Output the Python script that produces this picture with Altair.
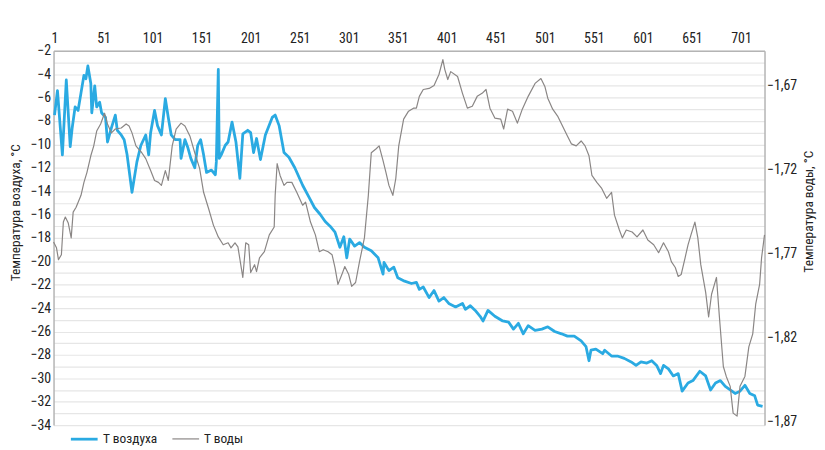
import altair as alt
import pandas as pd

# ---- data ----
air_idx = [1,4,9,13,17,19,22,25,28,31,33,35,38,39,42,44,47,49,53,55,
           59,63,65,69,72,75,80,85,89,94,97,99,103,106,110,114,117,120,124,129,
           130,134,137,140,144,147,150,153,156,161,165,166,168,169,171,175,178,182,186,190,
           193,198,201,204,207,211,216,223,226,230,235,240,246,254,261,266,272,277,282,287,
           292,296,299,302,307,312,317,324,331,336,337,342,347,351,358,365,370,373,377,383,
           388,393,398,403,410,417,420,425,430,435,438,443,450,458,464,469,474,479,484,491,
           498,504,511,518,524,531,538,543,546,548,553,560,562,569,575,582,589,594,599,605,
           610,615,619,622,627,632,637,641,647,652,659,665,670,675,680,685,690,695,700,705,
           710,715,718,723]
air_temp = [-7.5,-5.4,-10.9,-4.5,-10.2,-8.6,-6.8,-7.1,-5.6,-4.1,
            -4.4,-3.3,-4.8,-7.3,-5.0,-6.8,-6.4,-7.3,-7.7,-9.8,
            -8.6,-7.5,-8.8,-9.2,-9.6,-10.9,-14.1,-11.5,-10.1,-9.2,
            -10.9,-9.0,-7.1,-8.4,-9.2,-6.1,-7.7,-9.2,-9.6,-9.6,
            -11.2,-9.6,-10.3,-11.2,-12.0,-10.1,-9.6,-10.9,-12.4,-12.2,
            -12.6,-11.5,-3.6,-11.2,-10.9,-10.1,-9.8,-8.1,-9.8,-12.9,
            -9.1,-8.8,-9.0,-10.7,-9.5,-11.3,-9.2,-7.7,-7.5,-8.4,
            -10.7,-11.1,-12.0,-13.5,-14.6,-15.4,-16.0,-16.6,-17.0,-17.5,
            -18.8,-17.9,-19.7,-18.1,-18.7,-18.4,-18.8,-19.1,-19.7,-21.1,
            -20.1,-20.8,-20.5,-21.4,-21.7,-21.9,-21.8,-22.4,-22.2,-23.1,
            -22.5,-23.4,-23.1,-23.6,-23.9,-23.6,-24.1,-23.8,-24.2,-24.7,
            -25.1,-24.2,-24.7,-25.1,-25.2,-25.8,-25.3,-26.2,-25.5,-25.9,
            -25.8,-25.6,-26.0,-26.2,-26.4,-26.4,-26.8,-27.3,-28.5,-27.6,
            -27.5,-27.9,-27.6,-28.1,-28.1,-28.3,-28.6,-28.9,-28.6,-28.7,
            -28.5,-28.9,-29.6,-28.9,-29.2,-29.8,-29.6,-31.1,-30.4,-30.2,
            -29.4,-29.8,-31.0,-30.4,-30.2,-30.7,-31.0,-31.3,-31.1,-30.6,
            -31.3,-31.5,-32.3,-32.4]

water_idx = [0,3,5,8,10,12,15,18,20,23,
             28,31,34,38,41,44,48,52,55,59,
             63,69,74,77,80,84,90,94,99,103,
             107,110,114,117,121,125,130,134,139,144,
             149,153,158,163,168,173,178,181,185,188,
             193,196,199,201,205,207,210,215,220,225,
             226,228,231,235,238,243,248,254,257,262,
             267,271,275,280,284,287,290,294,297,301,
             304,308,312,317,321,324,329,332,336,339,
             342,346,349,352,357,362,367,370,373,377,
             383,388,393,397,399,402,405,412,417,422,
             427,432,437,441,445,450,456,459,463,468,
             473,478,484,491,497,501,504,509,514,518,
             524,528,533,538,542,546,549,554,559,564,
             569,572,577,580,584,590,595,601,606,612,
             617,622,627,630,634,637,640,644,647,650,
             654,657,660,665,668,671,676,679,683,686,
             690,693,697,700,705,709,713,716,720,722,
             725]
water_temp = [-1.763,-1.7665,-1.7735,-1.7706,-1.7512,-1.7482,-1.7518,-1.7606,-1.7453,-1.7424,
              -1.7353,-1.7276,-1.7218,-1.7118,-1.7059,-1.6971,-1.6929,-1.6865,-1.6929,-1.6982,
              -1.6959,-1.6953,-1.6929,-1.6941,-1.6982,-1.7059,-1.71,-1.7135,-1.7206,-1.7265,
              -1.7276,-1.7294,-1.7206,-1.7265,-1.7059,-1.6959,-1.6924,-1.6941,-1.70,-1.71,
              -1.7194,-1.7335,-1.743,-1.753,-1.76,-1.7647,-1.7635,-1.7665,-1.7635,-1.7659,
              -1.7841,-1.7635,-1.7647,-1.7812,-1.7765,-1.7806,-1.7724,-1.7688,-1.7588,-1.7541,
              -1.7353,-1.7165,-1.7235,-1.7294,-1.7276,-1.7276,-1.7335,-1.7412,-1.7394,-1.7512,
              -1.7588,-1.7688,-1.7676,-1.7688,-1.7706,-1.7782,-1.7882,-1.7824,-1.7776,-1.7824,
              -1.7894,-1.7871,-1.7747,-1.7606,-1.7353,-1.71,-1.7076,-1.7059,-1.7147,-1.7218,
              -1.7294,-1.7353,-1.7253,-1.7059,-1.69,-1.6853,-1.6835,-1.6835,-1.6765,-1.6724,
              -1.6718,-1.67,-1.6635,-1.6547,-1.6606,-1.6665,-1.6618,-1.6647,-1.6747,-1.6835,
              -1.6824,-1.6765,-1.6747,-1.6724,-1.6835,-1.6894,-1.69,-1.6959,-1.6841,-1.6853,
              -1.6924,-1.6841,-1.6765,-1.6688,-1.6659,-1.6706,-1.6776,-1.6841,-1.6882,-1.6929,
              -1.70,-1.7047,-1.7059,-1.703,-1.7059,-1.7118,-1.7235,-1.7276,-1.7312,-1.7371,
              -1.7335,-1.7471,-1.7559,-1.7606,-1.7559,-1.7571,-1.76,-1.7559,-1.7618,-1.7647,
              -1.7694,-1.7635,-1.7688,-1.7747,-1.7782,-1.7835,-1.7824,-1.7724,-1.7647,-1.7588,
              -1.7512,-1.7606,-1.7765,-1.793,-1.8076,-1.7941,-1.7841,-1.8076,-1.837,-1.8429,
              -1.8488,-1.8647,-1.8665,-1.8488,-1.8429,-1.8253,-1.8176,-1.80,-1.7882,-1.7724,
              -1.7588]

x_ticks = [1, 51, 101, 151, 201, 251, 301, 351, 401, 451, 501, 551, 601, 651, 701]
air_ticks = list(range(-34, -1))
water_ticks = [-1.67, -1.72, -1.77, -1.82, -1.87]

series_names = ["Т воздуха", "Т воды"]
series_colors = ["#2aaae2", "#8a8685"]
series_widths = [2.8, 1.2]

air_df = pd.DataFrame({"idx": air_idx, "value": air_temp, "series": series_names[0]})
water_df = pd.DataFrame({"idx": water_idx, "value": water_temp, "series": series_names[1]})

FONT = "Liberation Sans Narrow, Arial Narrow, Roboto Condensed, Liberation Sans, sans-serif"
TXT = "#222222"
AXC = "#b4b4b4"

legend_cfg = dict(title=None, orient="none", legendX=16, legendY=377, direction="horizontal",
                  symbolType="stroke", symbolSize=729, labelFontSize=13.5, labelFont=FONT,
                  labelColor=TXT, columnPadding=12, labelOffset=4, padding=0)

color = alt.Color("series:N", scale=alt.Scale(domain=series_names, range=series_colors),
                  legend=alt.Legend(**legend_cfg))
swidth = alt.StrokeWidth("series:N", scale=alt.Scale(domain=series_names, range=series_widths),
                         legend=alt.Legend(**legend_cfg))

x_enc = alt.X("idx:Q", scale=alt.Scale(domain=[0, 725], nice=False, zero=False),
              axis=alt.Axis(orient="top", values=x_ticks, title=None, grid=False, ticks=False,
                            labelPadding=5, domainColor=AXC, domainWidth=1.5,
                            labelFontSize=14, labelFont=FONT, labelColor=TXT, labelFlush=False,
                            labelOverlap=False))

air_line = alt.Chart(air_df).mark_line(strokeJoin="round").encode(
    x=x_enc,
    y=alt.Y("value:Q", scale=alt.Scale(domain=[-34, -2], nice=False, zero=False),
            axis=alt.Axis(values=air_ticks, labelExpr="datum.value % 2 == 0 ? datum.label : ''",
                          grid=True, gridColor="#e6e6e6", gridWidth=1.2, ticks=False,
                          domainColor=AXC, domainWidth=1.5, labelPadding=3, labelOverlap=False,
                          labelFontSize=14, labelFont=FONT, labelColor=TXT,
                          title="Температура воздуха, °C", titleFont=FONT, titleFontSize=13.5,
                          titleFontWeight="normal", titleColor=TXT, titleAngle=270,
                          titleX=-38, titleY=163, titleAlign="center", titleBaseline="middle")),
    color=color,
    strokeWidth=swidth,
)

water_line = alt.Chart(water_df).mark_line(strokeJoin="round").encode(
    x=x_enc,
    y=alt.Y("value:Q", scale=alt.Scale(domain=[-1.8718, -1.6494], nice=False, zero=False),
            axis=alt.Axis(orient="right", values=water_ticks,
                          labelExpr="replace(format(datum.value, '.2f'), '.', ',')",
                          grid=False, ticks=False, domainColor=AXC, domainWidth=1.5,
                          labelPadding=2, labelOverlap=False,
                          labelFontSize=14, labelFont=FONT, labelColor=TXT,
                          title="Температура воды, °C", titleFont=FONT, titleFontSize=13.5,
                          titleFontWeight="normal", titleColor=TXT, titleAngle=270,
                          titleX=44, titleY=162, titleAlign="center", titleBaseline="middle")),
    color=color,
    strokeWidth=swidth,
)

chart = alt.layer(air_line, water_line).resolve_scale(
    y="independent"
).properties(
    width=718,
    height=378,
    autosize="none",
    padding={"left": 46, "top": 41, "right": 53, "bottom": 22},
    background="white",
).configure_view(stroke=None)

chart.save("out.html", embed_options={"renderer": "svg", "actions": False})
